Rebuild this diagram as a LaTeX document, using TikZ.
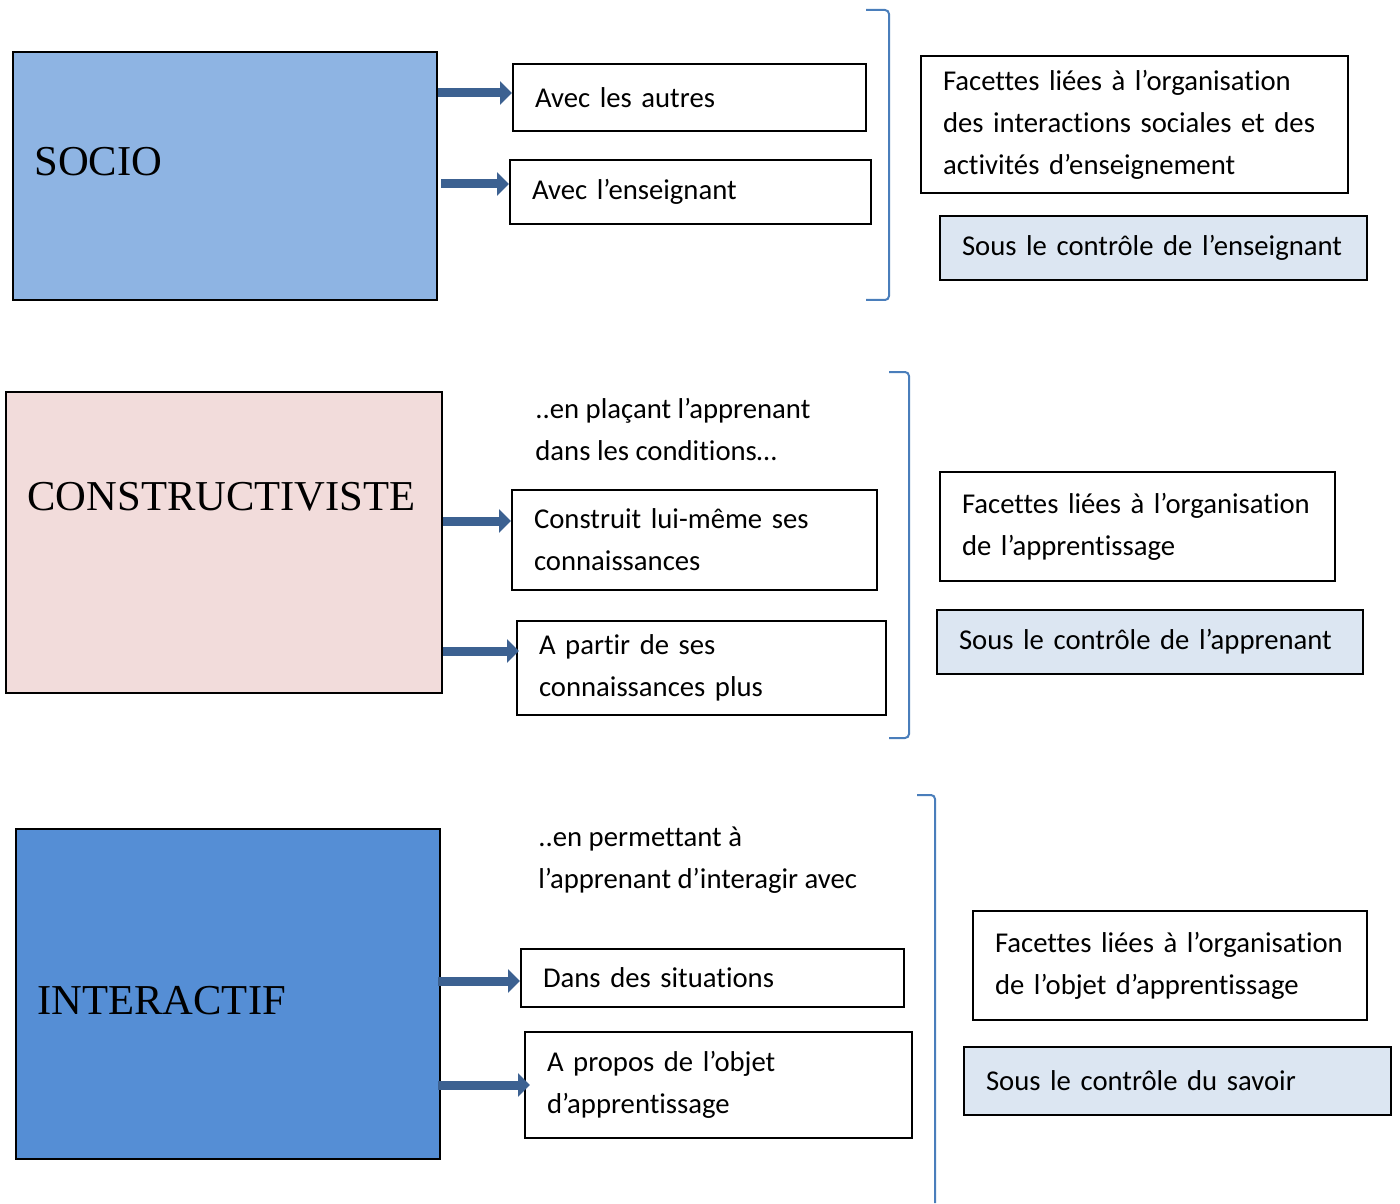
\documentclass[tikz,border=0pt]{standalone}
\usepackage{fontspec}
\setmainfont{Carlito}[Ligatures=NoCommon]
\newfontfamily\timesf{Liberation Serif}
\usetikzlibrary{arrows.meta}
\definecolor{socioC}{HTML}{8EB4E3}
\definecolor{consC}{HTML}{F2DCDB}
\definecolor{interC}{HTML}{558ED5}
\definecolor{lightC}{HTML}{DCE6F2}
\definecolor{arrC}{HTML}{3C6191}
\definecolor{brC}{HTML}{4A7EBB}
\tikzset{
  bigbox/.style={draw=black, line width=1pt, inner sep=0pt},
  bigtext/.style={anchor=west, inner sep=0pt, font=\timesf\fontsize{21.3pt}{25pt}\selectfont},
  sbox/.style={draw=black, line width=1pt, inner xsep=11pt, inner ysep=0pt, align=left,
    font=\fontsize{14.35pt}{21pt}\selectfont, execute at begin node={\hyphenpenalty=10000\relax}},
  ctrl/.style={sbox, fill=lightC},
  plain/.style={anchor=west, inner sep=0pt, align=left, font=\fontsize{14.35pt}{21pt}\selectfont},
  arr/.style={draw=arrC, line width=4.5pt, -{Triangle[length=6pt,width=11.5pt]}},
  bracket/.style={draw=brC, line width=1pt, rounded corners=2pt},
  dims/.style 2 args={minimum width=#1, minimum height=#2, text width=#1-22pt}
}
\begin{document}
\begin{tikzpicture}[x=0.5pt,y=-0.5pt]
\useasboundingbox (0,0) rectangle (1400,1203);
% SOCIO
\node[bigbox, fill=socioC, minimum width=212pt, minimum height=124pt] (socio) at (225,176) {};
\node[bigtext] (sociot) at (34,162) {SOCIO};
\node[sbox, dims={176.5pt}{33.5pt}] (a1) at (689.5,97.5) {Avec les autres};
\node[sbox, dims={180.5pt}{32pt}] (a2) at (690.5,192) {Avec l’enseignant};
\node[sbox, dims={213.5pt}{68.5pt}] (f1) at (1134.5,124.5) {Facettes liées à l’organisation\\des interactions sociales et des\\activités d’enseignement};
\node[ctrl, dims={213.5pt}{32pt}] (s1) at (1153.5,248) {Sous le contrôle de l’enseignant};
\draw[arr] (socio.east |- 0,93) -- (a1.west |- 0,93);
\draw[arr] ([xshift=1.5pt]socio.east |- 0,184) -- (a2.west |- 0,184);
\draw[bracket] (866,10) -- (889,10) -- (889,300) -- (866,300);
% CONSTRUCTIVISTE
\node[bigbox, fill=consC, minimum width=218pt, minimum height=150.5pt] (cons) at (224,542.5) {};
\node[bigtext] (const) at (27,497) {CONSTRUCTIVISTE};
\node[plain] (t2) at (535,429.5) {..en plaçant l’apprenant\\dans les conditions…};
\node[sbox, dims={182.5pt}{50pt}] (b1) at (694.5,540) {Construit lui-même ses\\connaissances};
\node[sbox, dims={184.5pt}{47pt}] (b2) at (701.5,668) {A partir de ses\\connaissances plus};
\node[sbox, dims={197.5pt}{54.5pt}] (f2) at (1137.5,526.5) {Facettes liées à l’organisation\\de l’apprentissage};
\node[ctrl, dims={213pt}{32pt}] (s2) at (1150,642) {Sous le contrôle de l’apprenant};
\draw[arr] (cons.east |- 0,521) -- (b1.west |- 0,521);
\draw[arr] (cons.east |- 0,651) -- ([xshift=1.5pt]b2.west |- 0,651);
\draw[bracket] (889,372) -- (909,372) -- (909,738) -- (889,738);
% INTERACTIF
\node[bigbox, fill=interC, minimum width=212pt, minimum height=165pt] (inter) at (228,994) {};
\node[bigtext] (intert) at (37,1001) {INTERACTIF};
\node[plain] (t3) at (538,860) {..en permettant à\\l’apprenant d’interagir avec};
\node[sbox, dims={191.5pt}{29pt}] (c1) at (712.5,978) {Dans des situations};
\node[sbox, dims={193.5pt}{53pt}] (c2) at (718.5,1085) {A propos de l’objet\\d’apprentissage};
\node[sbox, dims={197pt}{54.5pt}] (f3) at (1170,965.5) {Facettes liées à l’organisation\\de l’objet d’apprentissage};
\node[ctrl, dims={213.5pt}{34pt}] (s3) at (1177.5,1081) {Sous le contrôle du savoir};
\draw[arr] ([xshift=-1.5pt]inter.east |- 0,981) -- (c1.west |- 0,981);
\draw[arr] ([xshift=-1.5pt]inter.east |- 0,1085) -- ([xshift=3pt]c2.west |- 0,1085);
\draw[bracket] (917,795) -- (935,795) -- (935,1203);
\end{tikzpicture}
\end{document}
